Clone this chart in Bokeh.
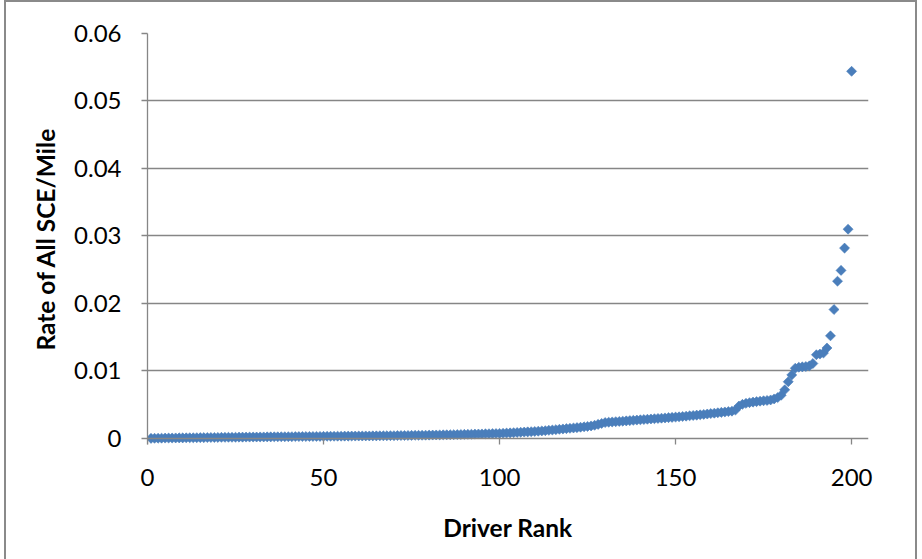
from math import pi

from bokeh.embed import file_html
from bokeh.models import CustomJSTickFormatter, FixedTicker, LinearAxis, Range1d
from bokeh.plotting import figure
from bokeh.resources import INLINE

# Drivers ranked by their rate of safety-critical events per mile
driver_rank = list(range(1, 201))
sce_rate = [
    0.00001, 0.00002, 0.00003, 0.00004, 0.00005, 0.00006, 0.00006, 0.00007, 0.00008, 0.00008,
    0.00009, 0.00010, 0.00010, 0.00011, 0.00012, 0.00012, 0.00013, 0.00014, 0.00014, 0.00015,
    0.00016, 0.00016, 0.00017, 0.00017, 0.00018, 0.00019, 0.00019, 0.00020, 0.00020, 0.00021,
    0.00021, 0.00022, 0.00022, 0.00023, 0.00023, 0.00024, 0.00024, 0.00025, 0.00025, 0.00026,
    0.00026, 0.00027, 0.00027, 0.00028, 0.00028, 0.00029, 0.00029, 0.00030, 0.00030, 0.00031,
    0.00031, 0.00032, 0.00032, 0.00033, 0.00033, 0.00034, 0.00034, 0.00035, 0.00035, 0.00036,
    0.00036, 0.00037, 0.00037, 0.00038, 0.00038, 0.00039, 0.00039, 0.00040, 0.00041, 0.00041,
    0.00042, 0.00043, 0.00043, 0.00044, 0.00045, 0.00046, 0.00046, 0.00047, 0.00048, 0.00049,
    0.00050, 0.00051, 0.00052, 0.00053, 0.00054, 0.00055, 0.00056, 0.00057, 0.00058, 0.00060,
    0.00061, 0.00062, 0.00064, 0.00065, 0.00066, 0.00068, 0.00069, 0.00071, 0.00072, 0.00074,
    0.00076, 0.00079, 0.00082, 0.00085, 0.00088, 0.00091, 0.00094, 0.00097, 0.00100, 0.00103,
    0.00107, 0.00111, 0.00115, 0.00120, 0.00125, 0.00130, 0.00135, 0.00140, 0.00145, 0.00150,
    0.00155, 0.00160, 0.00166, 0.00172, 0.00178, 0.00185, 0.00195, 0.00208, 0.00222, 0.00235,
    0.00240, 0.00244, 0.00248, 0.00252, 0.00256, 0.00260, 0.00264, 0.00268, 0.00272, 0.00276,
    0.00280, 0.00284, 0.00288, 0.00292, 0.00296, 0.00300, 0.00304, 0.00308, 0.00312, 0.00316,
    0.00320, 0.00325, 0.00330, 0.00335, 0.00340, 0.00345, 0.00350, 0.00356, 0.00362, 0.00368,
    0.00374, 0.00380, 0.00386, 0.00392, 0.00398, 0.00404, 0.00420, 0.00480, 0.00505, 0.00520,
    0.00530, 0.00538, 0.00545, 0.00552, 0.00558, 0.00563, 0.00570, 0.00585, 0.00605, 0.00640,
    0.00720, 0.00840, 0.00940, 0.01040, 0.01055, 0.01060, 0.01065, 0.01075, 0.01110, 0.01240,
    0.01250, 0.01265, 0.01340, 0.01520, 0.01910, 0.02330, 0.02490, 0.02820, 0.03100, 0.05440,
]

x_ticks = [0, 50, 100, 150, 200]
y_ticks = [0, 0.01, 0.02, 0.03, 0.04, 0.05, 0.06]

x_title = "Driver Rank"
y_title = "Rate of All SCE/Mile"

FONT = "Lato"
AXIS_GREY = "#868686"
MARKER_BLUE = "#4A7EBB"

# the chart area is framed by a thin grey border (drawn with CSS on the host
# element, so the canvas starts 6 px in from the page's left edge)
p = figure(
    width=913,
    height=560,
    output_backend="svg",
    toolbar_location=None,
    x_range=Range1d(0, 204.8),
    y_range=Range1d(-0.0009, 0.06),
    min_border_left=141,
    min_border_right=51,
    min_border_top=31,
    min_border_bottom=118,
    background_fill_color="white",
    border_fill_color="white",
    outline_line_color=None,
)
p.styles = {
    "position": "relative",
    "left": "4px",
    "border-top": "2px solid #8a8a8a",
    "border-left": "2px solid #8a8a8a",
    "border-right": "2px solid #8a8a8a",
}

# diamond markers (rotated squares, as in a spreadsheet scatter chart)
p.scatter(
    driver_rank,
    sce_rate,
    marker="square",
    angle=pi / 4,
    size=7.1,
    fill_color=MARKER_BLUE,
    line_color=MARKER_BLUE,
    line_width=0.6,
)

# bottom axis: tick labels and title only, along the frame's lower edge
p.xaxis.ticker = FixedTicker(ticks=x_ticks)
p.xaxis.axis_line_color = None
p.xaxis.major_tick_line_color = None
p.xaxis.major_tick_out = 0
p.xaxis.major_tick_in = 0
p.xaxis.major_label_standoff = 24
p.xaxis.axis_label = x_title
p.xaxis.axis_label_standoff = 24

# value axis line at y = 0, ticks pointing down, so the lowest markers are
# not cut off by the frame
zero_axis = LinearAxis(
    ticker=FixedTicker(ticks=x_ticks),
    fixed_location=0,
    axis_line_color=AXIS_GREY,
    axis_line_width=1.3,
    major_tick_line_color=AXIS_GREY,
    major_tick_line_width=1.3,
    major_tick_in=7,
    major_tick_out=0,
    minor_tick_line_color=None,
    major_label_text_color=None,
    major_label_text_alpha=0,
    major_label_text_font_size="1px",
    major_label_standoff=0,
)
p.add_layout(zero_axis, "above")

p.yaxis.ticker = FixedTicker(ticks=y_ticks)
p.yaxis.formatter = CustomJSTickFormatter(
    code="return tick == 0 ? '0' : tick.toFixed(2);"
)
p.yaxis.axis_line_color = AXIS_GREY
p.yaxis.axis_line_width = 1.3
p.yaxis.major_tick_line_color = AXIS_GREY
p.yaxis.major_tick_line_width = 1.3
p.yaxis.major_tick_out = 6
p.yaxis.major_tick_in = 0
p.yaxis.major_label_standoff = 20
p.yaxis.axis_label = y_title
p.yaxis.axis_label_standoff = 11

for ax in (p.xaxis, p.yaxis):
    ax.minor_tick_line_color = None
    ax.major_label_text_font = FONT
    ax.major_label_text_font_size = "24px"
    ax.major_label_text_color = "black"
    ax.axis_label_text_font = FONT
    ax.axis_label_text_font_size = "24.5px"
    ax.axis_label_text_font_style = "bold"
    ax.axis_label_text_color = "black"

p.xgrid.grid_line_color = None
p.ygrid.ticker = FixedTicker(ticks=y_ticks[1:])
p.ygrid.grid_line_color = AXIS_GREY
p.ygrid.grid_line_width = 1.3

open("out.html", "w").write(file_html(p, INLINE))
